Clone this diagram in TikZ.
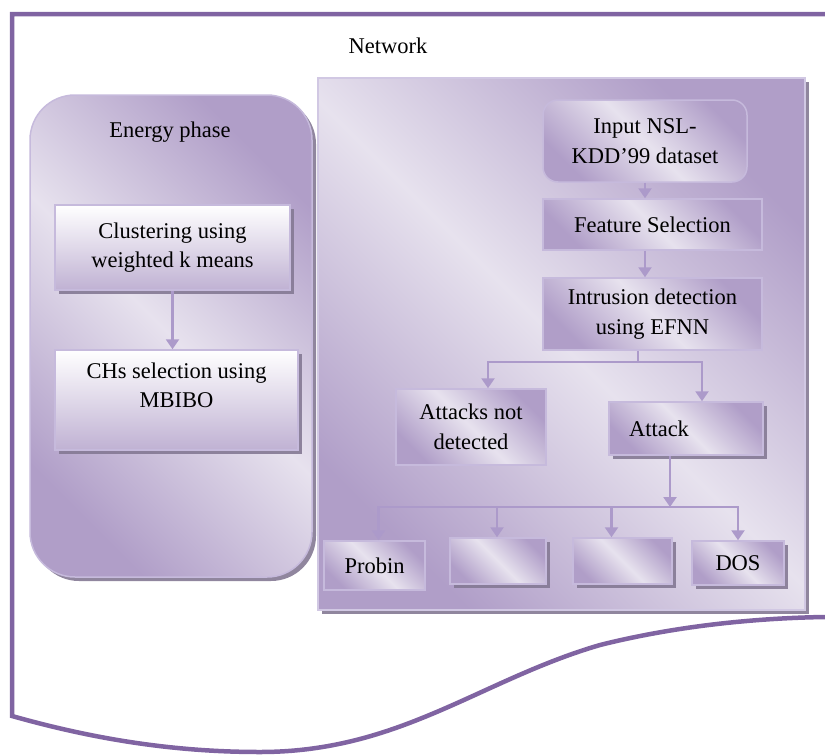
\documentclass[tikz,border=0pt]{standalone}
\usepackage{fontspec}
\setmainfont{Liberation Serif}
\usetikzlibrary{arrows.meta,shadows}

\definecolor{framepurple}{RGB}{128,100,162}
\definecolor{lavdark}{RGB}{176,158,200}
\definecolor{lavlight}{RGB}{231,226,238}
\definecolor{lavline}{RGB}{172,154,202}
\definecolor{lavborder}{RGB}{198,186,220}
\definecolor{shdw}{RGB}{132,121,148}

\begin{document}
\begin{tikzpicture}[x=1pt,y=-1pt,
	font=\fontsize{22.5}{29.5}\selectfont,
	grad/.style={draw=lavborder, line width=1.5pt, top color=lavdark, bottom color=lavdark, middle color=lavlight, shading angle=-45},
	wbox/.style={draw=lavborder, line width=1.5pt, top color=white, bottom color=lavdark!80, align=center, inner sep=0pt},
	gbox/.style={grad, align=center, inner sep=0pt},
	shd/.style={drop shadow={shadow xshift=4pt, shadow yshift=-4pt, fill=shdw, opacity=0.9}},
	lin/.style={draw=lavline, line width=2.4pt},
	arr/.style={lin, -{Triangle[length=10pt,width=13pt]}}]
	
	\useasboundingbox (0,0) rectangle (825,755);
	
	% outer frame
	\draw[framepurple, line width=4.5pt] (825,14) -- (12,14) -- (12,716)
		.. controls (90,738) and (170,752) .. (260,752)
		.. controls (400,752) and (480,680) .. (600,645)
		.. controls (680,625) and (760,618) .. (825,617);
	\node (nettitle) at (388,46) {Network};
	
	% the two big panels
	\node[grad, shd, draw=lavborder!80, minimum width=487pt, minimum height=532pt] (net) at (561.5,344) {};
	\node[grad, shd, rounded corners=45pt, minimum width=282pt, minimum height=482pt] (energy) at (171,336) {};
	\node (entitle) at (170,132) {Energy phase};
	
	% energy phase
	\node[wbox, shd, minimum width=235pt, minimum height=85pt] (clus) at (172.5,247.5) {Clustering using\\weighted k means};
	\node[wbox, shd, minimum width=243pt, minimum height=100pt] (chs) at (176.5,400) {CHs selection using\\MBIBO\\\mbox{}};
	\draw[arr] (clus.south) -- (clus.south |- chs.north);
	
	% network
	\node[gbox, rounded corners=15pt, minimum width=204pt, minimum height=82pt] (inp) at (645,141) {Input NSL-\\KDD'99 dataset};
	\node[gbox, minimum width=219pt, minimum height=51pt] (feat) at (652.5,224.5) {Feature Selection};
	\node[gbox, minimum width=219pt, minimum height=72pt] (intr) at (652.5,314) {Intrusion detection\\using EFNN};
	\node[gbox, minimum width=150pt, minimum height=76pt] (notdet) at (471,427) {Attacks not\\detected};
	\node[gbox, shd, text width=114pt, align=left, inner xsep=20pt, minimum height=53pt] (att) at (686,428.5) {Attack};
	
	\node[gbox, minimum width=101pt, minimum height=49pt] (probin) at (374.5,565.5) {Probin};
	\node[gbox, shd, minimum width=96pt, minimum height=46pt] (cat2) at (498,561) {};
	\node[gbox, shd, minimum width=99pt, minimum height=46pt] (cat3) at (622.5,561) {};
	\node[gbox, shd, minimum width=92pt, minimum height=44pt] (dos) at (738,563) {DOS};
	
	\coordinate (split1) at (638,362);
	\coordinate (split2) at (670,507);
	
	\draw[arr] (inp.south) -- (inp.south |- feat.north);
	\draw[arr] (feat.south -| inp.south) -- (inp.south |- intr.north);
	\draw[lin] (intr.south -| split1) -- (split1);
	\draw[arr] (split1) -| ([xshift=17pt]notdet.north);
	\draw[arr] (split1) -| ([xshift=16pt]att.north);
	\draw[arr] (att.south -| split2) -- (split2);
	\foreach \n/\dx in {probin/4,cat2/-1,cat3/-11,dos/0}
		\draw[arr] (split2) -| ([xshift=\dx pt]\n.north);
	
\end{tikzpicture}
\end{document}
